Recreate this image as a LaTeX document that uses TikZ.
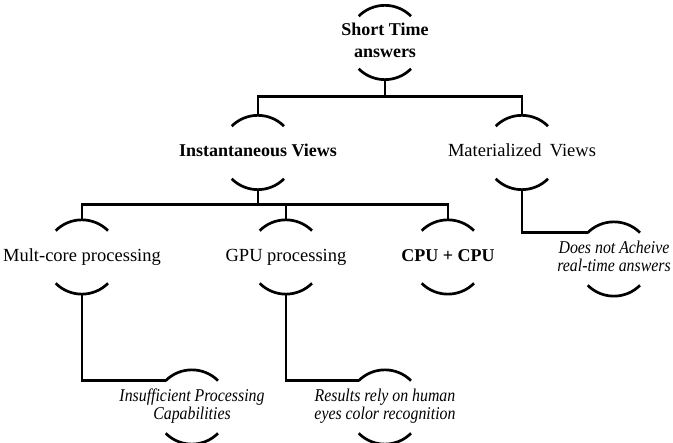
\documentclass[tikz,border=0pt]{standalone}
\usepackage{fontspec}
\setmainfont{Liberation Serif}
\usetikzlibrary{calc}
\newcommand\tx[1]{\makebox[0pt]{\begin{tabular}{@{}c@{}}#1\end{tabular}}}
\newcommand\itx[1]{\makebox[0pt]{\scalebox{0.88}[1]{\begin{tabular}{@{}c@{}}#1\end{tabular}}}}
\tikzset{
  ln/.style={line width=2.7pt, black},
  bub/.style={circle, minimum size=74pt, inner sep=0pt, draw=none},
  bf/.style={font=\fontsize{18}{22}\selectfont\bfseries},
  rm/.style={font=\fontsize{18.5}{22}\selectfont},
  it/.style={font=\fontsize{18}{17}\selectfont\itshape}
}
\begin{document}
\begin{tikzpicture}[x=1pt,y=1pt]
\useasboundingbox (0,0) rectangle (673,443);
\node[bub,bf] (root) at (385,400.5) {\tx{Short Time\\answers}};
\node[bub,bf] (inst) at (258,290.5) {\tx{Instantaneous Views}};
\node[bub,rm] (mat) at (522,290.5) {\tx{Materialized\hspace{0.45em}Views}};
\node[bub,rm] (mult) at (82,186) {\tx{Mult-core processing}};
\node[bub,rm] (gpu) at (286,186) {\tx{GPU processing}};
\node[bub,bf] (cpu) at (448,186) {\tx{CPU + CPU}};
\node[bub,it] (does) at (614,184) {\itx{Does not Acheive\\real-time answers}};
\node[bub,it] (insuf) at (192,36) {\itx{Insufficient Processing\\Capabilities}};
\node[bub,it] (res) at (385,36) {\itx{Results rely on human\\eyes color recognition}};
\foreach \n in {root,inst,mat,mult,gpu,cpu,does,insuf,res}{
  \draw[ln] (\n.135) arc (135:45:37pt);
  \draw[ln] (\n.225) arc (225:315:37pt);
}
\draw[ln] (root.south) -- ++(0,-17pt) -| (inst.north);
\draw[ln] (root.south) -- ++(0,-17pt) -| (mat.north);
\draw[ln] (inst.south) -- ++(0,-15pt) -| (mult.north);
\draw[ln] (inst.south) -- ++(0,-15pt) -| (gpu.north);
\draw[ln] (inst.south) -- ++(0,-15pt) -| (cpu.north);
\draw[ln] (mat.south) |- (does.135);
\draw[ln] (mult.south) |- (insuf.135);
\draw[ln] (gpu.south) |- (res.135);
\end{tikzpicture}
\end{document}
